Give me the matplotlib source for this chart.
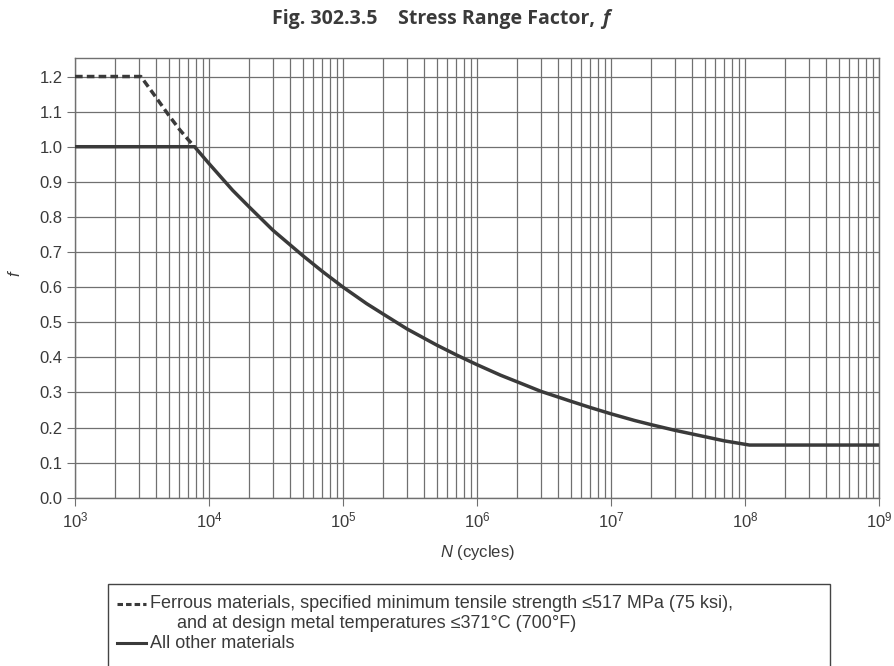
import matplotlib
matplotlib.use("Agg")
import matplotlib.pyplot as plt
from matplotlib.ticker import LogLocator, FixedLocator, NullFormatter
from matplotlib.patches import Rectangle
from matplotlib.lines import Line2D

# Data
n_other = [1e3, 7.8e3, 1e4, 1.5e4, 2e4, 3e4, 5e4, 7e4, 1e5, 1.5e5, 2e5, 3e5, 5e5, 7e5,
           1e6, 1.5e6, 2e6, 3e6, 5e6, 7e6, 1e7, 1.5e7, 2e7, 3e7, 5e7, 7e7, 1.08e8, 1e9]
f_other = [1.0, 1.0, 0.952, 0.876, 0.828, 0.762, 0.690, 0.645, 0.600, 0.553, 0.523, 0.481,
           0.435, 0.407, 0.379, 0.349, 0.330, 0.303, 0.275, 0.257, 0.239, 0.220, 0.208,
           0.192, 0.174, 0.162, 0.150, 0.150]
n_ferrous = [1e3, 3.1e3, 4e3, 5e3, 6e3, 7e3, 7.8e3]
f_ferrous = [1.2, 1.2, 1.142, 1.09, 1.05, 1.02, 1.0]
x_ticks = [1e3, 1e4, 1e5, 1e6, 1e7, 1e8, 1e9]
x_labels = [r'$10^{3}$', r'$10^{4}$', r'$10^{5}$', r'$10^{6}$', r'$10^{7}$', r'$10^{8}$', r'$10^{9}$']
y_ticks = [0.0, 0.1, 0.2, 0.3, 0.4, 0.5, 0.6, 0.7, 0.8, 0.9, 1.0, 1.1, 1.2]

plt.rcParams['font.family'] = ['Liberation Sans', 'DejaVu Sans']
plt.rcParams['mathtext.fontset'] = 'custom'
plt.rcParams['mathtext.rm'] = 'Liberation Sans'
plt.rcParams['mathtext.it'] = 'Liberation Sans:italic'
plt.rcParams['mathtext.bf'] = 'Liberation Sans:bold'
line_col = '#3a3a3a'
grid_col = '#707070'
text_col = '#3a3a3a'

fig = plt.figure(figsize=(8.95, 6.66), dpi=100)
ax = fig.add_axes([0.0838, 0.2527, 0.8983, 0.6598])

ax.set_xscale('log')
ax.set_xlim(1e3, 1e9)
ax.set_ylim(0, 1.252)

ax.xaxis.set_major_locator(FixedLocator(x_ticks))
ax.set_xticklabels(x_labels)
ax.xaxis.set_minor_locator(LogLocator(base=10, subs=range(2, 10), numticks=100))
ax.xaxis.set_minor_formatter(NullFormatter())
ax.yaxis.set_major_locator(FixedLocator(y_ticks))
ax.set_yticklabels([f"{v:.1f}" for v in y_ticks])

ax.grid(True, which='major', axis='both', color=grid_col, lw=0.9)
ax.grid(True, which='minor', axis='x', color=grid_col, lw=0.9)
ax.set_axisbelow(True)

for s in ax.spines.values():
    s.set_color(grid_col)
    s.set_linewidth(1.0)

ax.tick_params(axis='both', which='major', length=6, color=grid_col, labelsize=12,
               labelcolor=text_col, pad=3)
ax.tick_params(axis='x', which='minor', length=0)

ax.plot(n_other, f_other, color=line_col, lw=2.5, solid_capstyle='butt', zorder=3)
ax.plot(n_ferrous, f_ferrous, color=line_col, lw=2.5, ls=(0, (2.2, 1.2)), zorder=3)

ax.set_xlabel(r'$\it{N}$ (cycles)', fontsize=12, color=text_col)
ax.xaxis.set_label_coords(0.5, (497.7 - 552) / 439.4, transform=ax.transAxes)
ax.xaxis.label.set_va('center')
ax.set_ylabel(r'$\it{f}$', fontsize=12, color=text_col)
ax.yaxis.set_label_coords((15 - 75) / 804.0, (497.7 - 273) / 439.4, transform=ax.transAxes)
ax.yaxis.label.set_va('center')

fig.text(0.487, 1 - 9 / 666, 'Fig. 302.3.5    Stress Range Factor, ',
         ha='center', va='top', fontsize=14, fontweight='bold', color=text_col,
         family=['Open Sans', 'DejaVu Sans'])
t = fig.texts[-1]
fig.canvas.draw()
bb = t.get_window_extent()
fig.text(bb.x1 / 895.0 + 0.002, 1 - 9 / 666, 'f', ha='left', va='top', fontsize=14,
         fontweight='bold', fontstyle='italic', color=text_col,
         family=['Open Sans', 'DejaVu Sans'])

# Legend box (extends past bottom of figure)
W, H = 895.0, 666.0
fig.patches.append(Rectangle((108 / W, -0.05), (830 - 108) / W, (666 - 584) / H + 0.05,
                             transform=fig.transFigure, fill=False, ec='#444444', lw=1.0,
                             clip_on=False))
fig.lines.append(Line2D([117 / W, 146 / W], [1 - 604 / H] * 2, transform=fig.transFigure,
                        color=line_col, lw=2.2, ls=(0, (1.8, 1.0))))
fig.lines.append(Line2D([117 / W, 146 / W], [1 - 643 / H] * 2, transform=fig.transFigure,
                        color=line_col, lw=2.2))
fs_leg = 13
fig.text(150 / W, 1 - 604 / H,
         'Ferrous materials, specified minimum tensile strength \u2264517 MPa (75 ksi),',
         va='center', ha='left', fontsize=fs_leg, color=text_col)
fig.text(177 / W, 1 - 623 / H,
         'and at design metal temperatures \u2264371\u00b0C (700\u00b0F)',
         va='center', ha='left', fontsize=fs_leg, color=text_col)
fig.text(150 / W, 1 - 643 / H, 'All other materials',
         va='center', ha='left', fontsize=fs_leg, color=text_col)

fig.savefig('out.png', dpi=100)
